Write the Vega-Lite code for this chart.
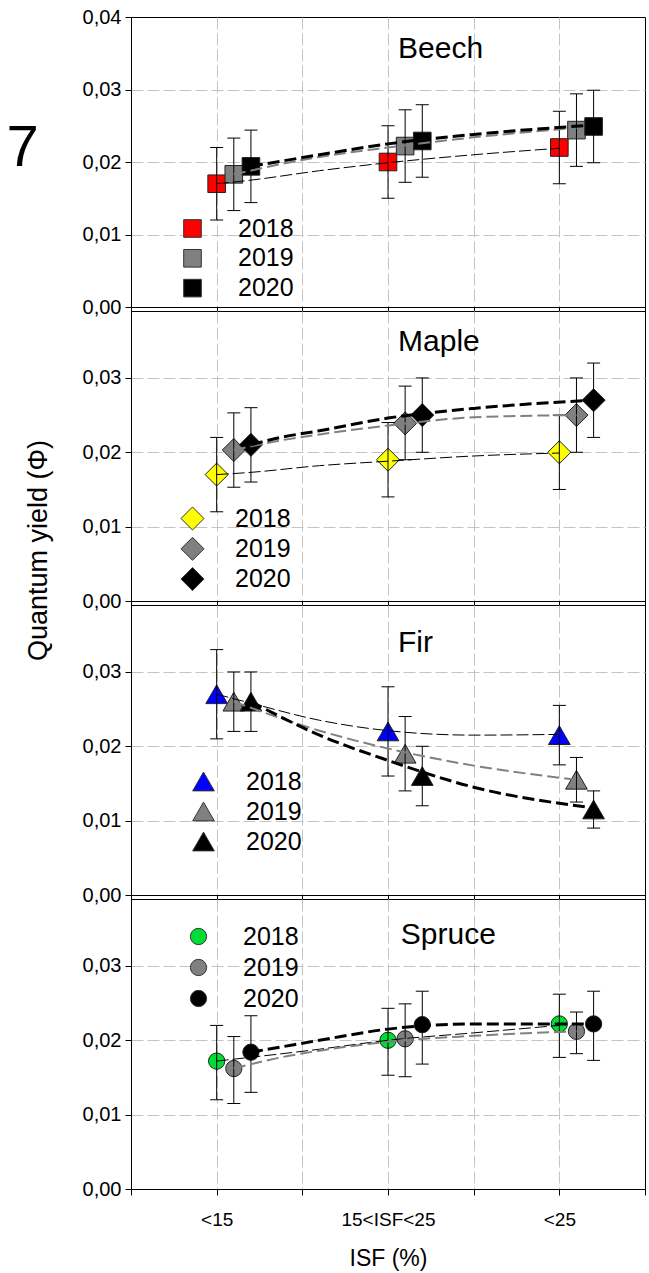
{
  "$schema": "https://vega.github.io/schema/vega-lite/v6.json",
  "padding": {"left": 5, "top": 6, "right": 2, "bottom": 4},
  "background": "white",
  "spacing": 4,
  "bounds": "flush",
  "resolve": {"scale": {"fill": "independent", "y": "independent"}, "legend": {"fill": "independent"}},
  "datasets": {
    "panels": [{"sp": "Beech"}, {"sp": "Maple"}, {"sp": "Fir"}, {"sp": "Spruce"}],
    "pts": [
      {"sp": "Beech", "year": "2018", "x": 1, "y": 0.017, "lo": 0.012, "hi": 0.022},
      {"sp": "Beech", "year": "2018", "x": 3, "y": 0.020, "lo": 0.015, "hi": 0.025},
      {"sp": "Beech", "year": "2018", "x": 5, "y": 0.022, "lo": 0.017, "hi": 0.027},
      {"sp": "Beech", "year": "2019", "x": 1.2, "y": 0.0183, "lo": 0.0133, "hi": 0.0233},
      {"sp": "Beech", "year": "2019", "x": 3.2, "y": 0.0222, "lo": 0.0172, "hi": 0.0272},
      {"sp": "Beech", "year": "2019", "x": 5.2, "y": 0.0244, "lo": 0.0194, "hi": 0.0294},
      {"sp": "Beech", "year": "2020", "x": 1.4, "y": 0.0194, "lo": 0.0144, "hi": 0.0244},
      {"sp": "Beech", "year": "2020", "x": 3.4, "y": 0.0229, "lo": 0.0179, "hi": 0.0279},
      {"sp": "Beech", "year": "2020", "x": 5.4, "y": 0.0249, "lo": 0.0199, "hi": 0.0299},
      {"sp": "Maple", "year": "2018", "x": 1, "y": 0.017, "lo": 0.012, "hi": 0.022},
      {"sp": "Maple", "year": "2018", "x": 3, "y": 0.019, "lo": 0.014, "hi": 0.024},
      {"sp": "Maple", "year": "2018", "x": 5, "y": 0.020, "lo": 0.015, "hi": 0.025},
      {"sp": "Maple", "year": "2019", "x": 1.2, "y": 0.0203, "lo": 0.0153, "hi": 0.0253},
      {"sp": "Maple", "year": "2019", "x": 3.2, "y": 0.0239, "lo": 0.019, "hi": 0.0289},
      {"sp": "Maple", "year": "2019", "x": 5.2, "y": 0.025, "lo": 0.020, "hi": 0.030},
      {"sp": "Maple", "year": "2020", "x": 1.4, "y": 0.021, "lo": 0.016, "hi": 0.026},
      {"sp": "Maple", "year": "2020", "x": 3.4, "y": 0.025, "lo": 0.020, "hi": 0.030},
      {"sp": "Maple", "year": "2020", "x": 5.4, "y": 0.027, "lo": 0.022, "hi": 0.032},
      {"sp": "Fir", "year": "2018", "x": 1, "y": 0.027, "lo": 0.021, "hi": 0.033},
      {"sp": "Fir", "year": "2018", "x": 3, "y": 0.022, "lo": 0.016, "hi": 0.028},
      {"sp": "Fir", "year": "2018", "x": 5, "y": 0.0215, "lo": 0.0175, "hi": 0.0255},
      {"sp": "Fir", "year": "2019", "x": 1.2, "y": 0.026, "lo": 0.022, "hi": 0.030},
      {"sp": "Fir", "year": "2019", "x": 3.2, "y": 0.019, "lo": 0.014, "hi": 0.024},
      {"sp": "Fir", "year": "2019", "x": 5.2, "y": 0.0155, "lo": 0.0125, "hi": 0.0185},
      {"sp": "Fir", "year": "2020", "x": 1.4, "y": 0.026, "lo": 0.022, "hi": 0.030},
      {"sp": "Fir", "year": "2020", "x": 3.4, "y": 0.016, "lo": 0.012, "hi": 0.020},
      {"sp": "Fir", "year": "2020", "x": 5.4, "y": 0.0115, "lo": 0.009, "hi": 0.014},
      {"sp": "Spruce", "year": "2018", "x": 1, "y": 0.0172, "lo": 0.012, "hi": 0.022},
      {"sp": "Spruce", "year": "2018", "x": 3, "y": 0.020, "lo": 0.0153, "hi": 0.0243},
      {"sp": "Spruce", "year": "2018", "x": 5, "y": 0.0222, "lo": 0.0177, "hi": 0.0262},
      {"sp": "Spruce", "year": "2019", "x": 1.2, "y": 0.0162, "lo": 0.0115, "hi": 0.0205},
      {"sp": "Spruce", "year": "2019", "x": 3.2, "y": 0.0202, "lo": 0.0151, "hi": 0.0249},
      {"sp": "Spruce", "year": "2019", "x": 5.2, "y": 0.0212, "lo": 0.0182, "hi": 0.0238},
      {"sp": "Spruce", "year": "2020", "x": 1.4, "y": 0.0184, "lo": 0.013, "hi": 0.0233},
      {"sp": "Spruce", "year": "2020", "x": 3.4, "y": 0.0221, "lo": 0.0168, "hi": 0.0266},
      {"sp": "Spruce", "year": "2020", "x": 5.4, "y": 0.0222, "lo": 0.0173, "hi": 0.0266}
    ],
    "fit": [
      {"sp": "Beech", "year": "2018", "x": 1, "y": 0.017},
      {"sp": "Beech", "year": "2018", "x": 1.4, "y": 0.0175},
      {"sp": "Beech", "year": "2018", "x": 2.2, "y": 0.0188},
      {"sp": "Beech", "year": "2018", "x": 3, "y": 0.0199},
      {"sp": "Beech", "year": "2018", "x": 4, "y": 0.0210},
      {"sp": "Beech", "year": "2018", "x": 5, "y": 0.0219},
      {"sp": "Beech", "year": "2019", "x": 1.2, "y": 0.0183},
      {"sp": "Beech", "year": "2019", "x": 2.2, "y": 0.0207},
      {"sp": "Beech", "year": "2019", "x": 3, "y": 0.0220},
      {"sp": "Beech", "year": "2019", "x": 4, "y": 0.0234},
      {"sp": "Beech", "year": "2019", "x": 5.2, "y": 0.0247},
      {"sp": "Beech", "year": "2020", "x": 1.4, "y": 0.0194},
      {"sp": "Beech", "year": "2020", "x": 2.2, "y": 0.0210},
      {"sp": "Beech", "year": "2020", "x": 3, "y": 0.0225},
      {"sp": "Beech", "year": "2020", "x": 4, "y": 0.0238},
      {"sp": "Beech", "year": "2020", "x": 5.4, "y": 0.0251},
      {"sp": "Maple", "year": "2018", "x": 1, "y": 0.017},
      {"sp": "Maple", "year": "2018", "x": 1.4, "y": 0.0173},
      {"sp": "Maple", "year": "2018", "x": 2.2, "y": 0.0182},
      {"sp": "Maple", "year": "2018", "x": 3, "y": 0.0188},
      {"sp": "Maple", "year": "2018", "x": 4, "y": 0.0195},
      {"sp": "Maple", "year": "2018", "x": 5, "y": 0.0199},
      {"sp": "Maple", "year": "2019", "x": 1.2, "y": 0.0203},
      {"sp": "Maple", "year": "2019", "x": 1.75, "y": 0.0216},
      {"sp": "Maple", "year": "2019", "x": 2.2, "y": 0.0224},
      {"sp": "Maple", "year": "2019", "x": 3, "y": 0.0236},
      {"sp": "Maple", "year": "2019", "x": 4, "y": 0.0247},
      {"sp": "Maple", "year": "2019", "x": 5.2, "y": 0.0250},
      {"sp": "Maple", "year": "2020", "x": 1.4, "y": 0.021},
      {"sp": "Maple", "year": "2020", "x": 1.75, "y": 0.0220},
      {"sp": "Maple", "year": "2020", "x": 2.2, "y": 0.0229},
      {"sp": "Maple", "year": "2020", "x": 3, "y": 0.0246},
      {"sp": "Maple", "year": "2020", "x": 4, "y": 0.0259},
      {"sp": "Maple", "year": "2020", "x": 5.4, "y": 0.027},
      {"sp": "Fir", "year": "2018", "x": 1, "y": 0.027},
      {"sp": "Fir", "year": "2018", "x": 1.4, "y": 0.0258},
      {"sp": "Fir", "year": "2018", "x": 2.2, "y": 0.0235},
      {"sp": "Fir", "year": "2018", "x": 3, "y": 0.0221},
      {"sp": "Fir", "year": "2018", "x": 4, "y": 0.0215},
      {"sp": "Fir", "year": "2018", "x": 5, "y": 0.0216},
      {"sp": "Fir", "year": "2019", "x": 1.2, "y": 0.026},
      {"sp": "Fir", "year": "2019", "x": 2.2, "y": 0.0221},
      {"sp": "Fir", "year": "2019", "x": 3, "y": 0.0197},
      {"sp": "Fir", "year": "2019", "x": 4, "y": 0.0174},
      {"sp": "Fir", "year": "2019", "x": 5.2, "y": 0.0155},
      {"sp": "Fir", "year": "2020", "x": 1.4, "y": 0.026},
      {"sp": "Fir", "year": "2020", "x": 2.2, "y": 0.0215},
      {"sp": "Fir", "year": "2020", "x": 3, "y": 0.0181},
      {"sp": "Fir", "year": "2020", "x": 4, "y": 0.0145},
      {"sp": "Fir", "year": "2020", "x": 5.4, "y": 0.0117},
      {"sp": "Spruce", "year": "2018", "x": 1, "y": 0.0172},
      {"sp": "Spruce", "year": "2018", "x": 2.2, "y": 0.0188},
      {"sp": "Spruce", "year": "2018", "x": 3, "y": 0.0200},
      {"sp": "Spruce", "year": "2018", "x": 4, "y": 0.0210},
      {"sp": "Spruce", "year": "2018", "x": 5, "y": 0.0220},
      {"sp": "Spruce", "year": "2019", "x": 1.2, "y": 0.0162},
      {"sp": "Spruce", "year": "2019", "x": 1.75, "y": 0.0177},
      {"sp": "Spruce", "year": "2019", "x": 2.2, "y": 0.0186},
      {"sp": "Spruce", "year": "2019", "x": 3, "y": 0.0198},
      {"sp": "Spruce", "year": "2019", "x": 4, "y": 0.0206},
      {"sp": "Spruce", "year": "2019", "x": 5.2, "y": 0.0212},
      {"sp": "Spruce", "year": "2020", "x": 1.4, "y": 0.0184},
      {"sp": "Spruce", "year": "2020", "x": 1.75, "y": 0.0191},
      {"sp": "Spruce", "year": "2020", "x": 2.2, "y": 0.0200},
      {"sp": "Spruce", "year": "2020", "x": 3, "y": 0.0215},
      {"sp": "Spruce", "year": "2020", "x": 4, "y": 0.0222},
      {"sp": "Spruce", "year": "2020", "x": 5, "y": 0.0222},
      {"sp": "Spruce", "year": "2020", "x": 5.4, "y": 0.0222}
    ]
  },
  "vconcat": [
    {
      "width": 514, "height": 290,
      "layer": [
        {"data": {"name": "pts"}, "transform": [{"filter": "datum.sp == 'Beech'"}],
         "mark": {"type": "point", "shape": "square", "filled": true, "size": 310, "stroke": "#222", "strokeWidth": 1, "opacity": 1},
         "encoding": {
           "x": {"field": "x", "type": "quantitative", "scale": {"domain": [0, 6], "nice": false, "zero": false}, "axis": {"values": [0, 1, 2, 3, 4, 5, 6], "labels": false, "title": null}},
           "y": {"field": "y", "type": "quantitative", "scale": {"domain": [0, 0.04], "nice": false}, "axis": {"values": [0, 0.01, 0.02, 0.03, 0.04], "title": "7", "titleAngle": 0, "titleFontSize": 58, "titleX": -109, "titleY": 131, "titleAlign": "center", "titleBaseline": "middle"}},
           "fill": {"field": "year", "type": "nominal", "scale": {"domain": ["2018", "2019", "2020"], "range": ["#ff0000", "#808080", "#000000"]}, "legend": {"title": null, "orient": "none", "legendX": 49, "legendY": 199, "symbolType": "square", "symbolSize": 310, "labelOffset": 33, "rowPadding": 3.8}}
         }},
        {"data": {"name": "pts"}, "transform": [{"filter": "datum.sp == 'Beech'"}], "mark": {"type": "rule", "color": "#000", "strokeWidth": 1},
         "encoding": {"x": {"field": "x", "type": "quantitative"}, "y": {"field": "lo", "type": "quantitative"}, "y2": {"field": "hi"}}},
        {"data": {"name": "pts"}, "transform": [{"filter": "datum.sp == 'Beech'"}], "mark": {"type": "tick", "orient": "horizontal", "size": 13, "thickness": 1, "color": "#000", "opacity": 1},
         "encoding": {"x": {"field": "x", "type": "quantitative"}, "y": {"field": "lo", "type": "quantitative"}}},
        {"data": {"name": "pts"}, "transform": [{"filter": "datum.sp == 'Beech'"}], "mark": {"type": "tick", "orient": "horizontal", "size": 13, "thickness": 1, "color": "#000", "opacity": 1},
         "encoding": {"x": {"field": "x", "type": "quantitative"}, "y": {"field": "hi", "type": "quantitative"}}},
        {"data": {"name": "fit"}, "transform": [{"filter": "datum.sp == 'Beech'"}], "mark": {"type": "line", "interpolate": "monotone"},
         "encoding": {"x": {"field": "x", "type": "quantitative"}, "y": {"field": "y", "type": "quantitative"},
           "stroke": {"field": "year", "type": "nominal", "scale": {"domain": ["2018", "2019", "2020"], "range": ["#000000", "#808080", "#000000"]}, "legend": null},
           "strokeWidth": {"field": "year", "type": "nominal", "scale": {"domain": ["2018", "2019", "2020"], "range": [1, 3, 3]}, "legend": null},
           "strokeDash": {"field": "year", "type": "nominal", "scale": {"domain": ["2018", "2019", "2020"], "range": [[12, 4], [12, 5], [12, 5]]}, "legend": null}}},
        {"data": {"name": "panels"}, "transform": [{"filter": "datum.sp == 'Beech'"}], "mark": {"type": "text", "align": "left", "baseline": "alphabetic", "fontSize": 30, "color": "#000"},
         "encoding": {"x": {"datum": 3.117}, "y": {"datum": 0.0343}, "text": {"field": "sp"}}}
      ]
    },
    {
      "width": 514, "height": 290,
      "layer": [
        {"data": {"name": "pts"}, "transform": [{"filter": "datum.sp == 'Maple'"}],
         "mark": {"type": "point", "shape": "diamond", "filled": true, "size": 530, "stroke": "#222", "strokeWidth": 1, "opacity": 1},
         "encoding": {
           "x": {"field": "x", "type": "quantitative", "scale": {"domain": [0, 6], "nice": false, "zero": false}, "axis": {"values": [0, 1, 2, 3, 4, 5, 6], "labels": false, "title": null}},
           "y": {"field": "y", "type": "quantitative", "scale": {"domain": [0, 0.039], "nice": false}, "axis": {"values": [0, 0.01, 0.02, 0.03], "title": "Quantum yield (Φ)", "titleAngle": 270, "titleFontSize": 27, "titleX": -93, "titleY": 239, "titleAlign": "center", "titleBaseline": "middle"}},
           "fill": {"field": "year", "type": "nominal", "scale": {"domain": ["2018", "2019", "2020"], "range": ["#ffff00", "#808080", "#000000"]}, "legend": {"title": null, "orient": "none", "legendX": 49, "legendY": 195, "symbolType": "diamond", "symbolSize": 530, "labelOffset": 30, "rowPadding": 1.3}}
         }},
        {"data": {"name": "pts"}, "transform": [{"filter": "datum.sp == 'Maple'"}], "mark": {"type": "rule", "color": "#000", "strokeWidth": 1},
         "encoding": {"x": {"field": "x", "type": "quantitative"}, "y": {"field": "lo", "type": "quantitative"}, "y2": {"field": "hi"}}},
        {"data": {"name": "pts"}, "transform": [{"filter": "datum.sp == 'Maple'"}], "mark": {"type": "tick", "orient": "horizontal", "size": 13, "thickness": 1, "color": "#000", "opacity": 1},
         "encoding": {"x": {"field": "x", "type": "quantitative"}, "y": {"field": "lo", "type": "quantitative"}}},
        {"data": {"name": "pts"}, "transform": [{"filter": "datum.sp == 'Maple'"}], "mark": {"type": "tick", "orient": "horizontal", "size": 13, "thickness": 1, "color": "#000", "opacity": 1},
         "encoding": {"x": {"field": "x", "type": "quantitative"}, "y": {"field": "hi", "type": "quantitative"}}},
        {"data": {"name": "fit"}, "transform": [{"filter": "datum.sp == 'Maple'"}], "mark": {"type": "line", "interpolate": "monotone"},
         "encoding": {"x": {"field": "x", "type": "quantitative"}, "y": {"field": "y", "type": "quantitative"},
           "stroke": {"field": "year", "type": "nominal", "scale": {"domain": ["2018", "2019", "2020"], "range": ["#000000", "#808080", "#000000"]}, "legend": null},
           "strokeWidth": {"field": "year", "type": "nominal", "scale": {"domain": ["2018", "2019", "2020"], "range": [1, 3, 3]}, "legend": null},
           "strokeDash": {"field": "year", "type": "nominal", "scale": {"domain": ["2018", "2019", "2020"], "range": [[12, 4], [12, 5], [12, 5]]}, "legend": null}}},
        {"data": {"name": "panels"}, "transform": [{"filter": "datum.sp == 'Maple'"}], "mark": {"type": "text", "align": "left", "baseline": "alphabetic", "fontSize": 30, "color": "#000"},
         "encoding": {"x": {"datum": 3.117}, "y": {"datum": 0.0336}, "text": {"field": "sp"}}}
      ]
    },
    {
      "width": 514, "height": 290,
      "layer": [
        {"data": {"name": "pts"}, "transform": [{"filter": "datum.sp == 'Fir'"}],
         "mark": {"type": "point", "shape": "triangle-up", "filled": true, "size": 470, "stroke": "#222", "strokeWidth": 1, "opacity": 1},
         "encoding": {
           "x": {"field": "x", "type": "quantitative", "scale": {"domain": [0, 6], "nice": false, "zero": false}, "axis": {"values": [0, 1, 2, 3, 4, 5, 6], "labels": false, "title": null}},
           "y": {"field": "y", "type": "quantitative", "scale": {"domain": [0, 0.039], "nice": false}, "axis": {"values": [0, 0.01, 0.02, 0.03], "title": null}},
           "fill": {"field": "year", "type": "nominal", "scale": {"domain": ["2018", "2019", "2020"], "range": ["#0000ff", "#808080", "#000000"]}, "legend": {"title": null, "orient": "none", "legendX": 60, "legendY": 164, "symbolType": "triangle-up", "symbolSize": 470, "labelOffset": 30, "rowPadding": 4}}
         }},
        {"data": {"name": "pts"}, "transform": [{"filter": "datum.sp == 'Fir'"}], "mark": {"type": "rule", "color": "#000", "strokeWidth": 1},
         "encoding": {"x": {"field": "x", "type": "quantitative"}, "y": {"field": "lo", "type": "quantitative"}, "y2": {"field": "hi"}}},
        {"data": {"name": "pts"}, "transform": [{"filter": "datum.sp == 'Fir'"}], "mark": {"type": "tick", "orient": "horizontal", "size": 13, "thickness": 1, "color": "#000", "opacity": 1},
         "encoding": {"x": {"field": "x", "type": "quantitative"}, "y": {"field": "lo", "type": "quantitative"}}},
        {"data": {"name": "pts"}, "transform": [{"filter": "datum.sp == 'Fir'"}], "mark": {"type": "tick", "orient": "horizontal", "size": 13, "thickness": 1, "color": "#000", "opacity": 1},
         "encoding": {"x": {"field": "x", "type": "quantitative"}, "y": {"field": "hi", "type": "quantitative"}}},
        {"data": {"name": "fit"}, "transform": [{"filter": "datum.sp == 'Fir'"}], "mark": {"type": "line", "interpolate": "monotone"},
         "encoding": {"x": {"field": "x", "type": "quantitative"}, "y": {"field": "y", "type": "quantitative"},
           "stroke": {"field": "year", "type": "nominal", "scale": {"domain": ["2018", "2019", "2020"], "range": ["#000000", "#808080", "#000000"]}, "legend": null},
           "strokeWidth": {"field": "year", "type": "nominal", "scale": {"domain": ["2018", "2019", "2020"], "range": [1, 3, 3]}, "legend": null},
           "strokeDash": {"field": "year", "type": "nominal", "scale": {"domain": ["2018", "2019", "2020"], "range": [[12, 4], [12, 5], [12, 5]]}, "legend": null}}},
        {"data": {"name": "panels"}, "transform": [{"filter": "datum.sp == 'Fir'"}], "mark": {"type": "text", "align": "left", "baseline": "alphabetic", "fontSize": 30, "color": "#000"},
         "encoding": {"x": {"datum": 3.117}, "y": {"datum": 0.0327}, "text": {"field": "sp"}}}
      ]
    },
    {
      "width": 514, "height": 290,
      "layer": [
        {"data": {"name": "pts"}, "transform": [{"filter": "datum.sp == 'Spruce'"}],
         "mark": {"type": "point", "shape": "circle", "filled": true, "size": 265, "stroke": "#222", "strokeWidth": 1, "opacity": 1},
         "encoding": {
           "x": {"field": "x", "type": "quantitative", "scale": {"domain": [0, 6], "nice": false, "zero": false}, "axis": {"values": [0, 1, 2, 3, 4, 5, 6], "labelExpr": "datum.value == 1 ? '<15' : datum.value == 3 ? '15<ISF<25' : datum.value == 5 ? '<25' : ''", "labelPadding": 15, "labelFontSize": 19, "title": "ISF (%)", "titleFontSize": 23, "titlePadding": 18}},
           "y": {"field": "y", "type": "quantitative", "scale": {"domain": [0, 0.039], "nice": false}, "axis": {"values": [0, 0.01, 0.02, 0.03], "title": null}},
           "fill": {"field": "year", "type": "nominal", "scale": {"domain": ["2018", "2019", "2020"], "range": ["#00dd33", "#808080", "#000000"]}, "legend": {"title": null, "orient": "none", "legendX": 55, "legendY": 25, "symbolType": "circle", "symbolSize": 265, "labelOffset": 32, "rowPadding": 5}}
         }},
        {"data": {"name": "pts"}, "transform": [{"filter": "datum.sp == 'Spruce'"}], "mark": {"type": "rule", "color": "#000", "strokeWidth": 1},
         "encoding": {"x": {"field": "x", "type": "quantitative"}, "y": {"field": "lo", "type": "quantitative"}, "y2": {"field": "hi"}}},
        {"data": {"name": "pts"}, "transform": [{"filter": "datum.sp == 'Spruce'"}], "mark": {"type": "tick", "orient": "horizontal", "size": 13, "thickness": 1, "color": "#000", "opacity": 1},
         "encoding": {"x": {"field": "x", "type": "quantitative"}, "y": {"field": "lo", "type": "quantitative"}}},
        {"data": {"name": "pts"}, "transform": [{"filter": "datum.sp == 'Spruce'"}], "mark": {"type": "tick", "orient": "horizontal", "size": 13, "thickness": 1, "color": "#000", "opacity": 1},
         "encoding": {"x": {"field": "x", "type": "quantitative"}, "y": {"field": "hi", "type": "quantitative"}}},
        {"data": {"name": "fit"}, "transform": [{"filter": "datum.sp == 'Spruce'"}], "mark": {"type": "line", "interpolate": "monotone"},
         "encoding": {"x": {"field": "x", "type": "quantitative"}, "y": {"field": "y", "type": "quantitative"},
           "stroke": {"field": "year", "type": "nominal", "scale": {"domain": ["2018", "2019", "2020"], "range": ["#000000", "#808080", "#000000"]}, "legend": null},
           "strokeWidth": {"field": "year", "type": "nominal", "scale": {"domain": ["2018", "2019", "2020"], "range": [1, 3, 3]}, "legend": null},
           "strokeDash": {"field": "year", "type": "nominal", "scale": {"domain": ["2018", "2019", "2020"], "range": [[12, 4], [12, 5], [12, 5]]}, "legend": null}}},
        {"data": {"name": "panels"}, "transform": [{"filter": "datum.sp == 'Spruce'"}], "mark": {"type": "text", "align": "left", "baseline": "alphabetic", "fontSize": 30, "color": "#000"},
         "encoding": {"x": {"datum": 3.15}, "y": {"datum": 0.033}, "text": {"field": "sp"}}}
      ]
    }
  ],
  "config": {
    "font": "Liberation Sans",
    "view": {"stroke": "#000", "strokeWidth": 1},
    "axis": {"domainColor": "#000", "tickColor": "#000", "labelColor": "#000", "titleColor": "#000", "labelFont": "Liberation Sans", "titleFont": "Liberation Sans", "labelFontSize": 20, "tickSize": 6, "labelPadding": 4, "grid": true, "gridColor": "#c4c4c4", "gridDash": [12, 4], "gridWidth": 1, "titleFontWeight": "normal", "labelExpr": "replace(format(datum.value, '.2f'), '.', ',')"},
    "axisX": {"gridOpacity": {"condition": {"test": "datum.value <= 0 || datum.value >= 6", "value": 0}, "value": 1}},
    "axisY": {"gridOpacity": {"condition": {"test": "datum.value <= 0 || datum.value >= 0.0395", "value": 0}, "value": 1}},
    "legend": {"labelFont": "Liberation Sans", "labelFontSize": 25, "labelColor": "#000", "symbolStrokeColor": "#333", "symbolStrokeWidth": 1, "symbolOpacity": 1, "padding": 0, "labelLimit": 200}
  }
}
